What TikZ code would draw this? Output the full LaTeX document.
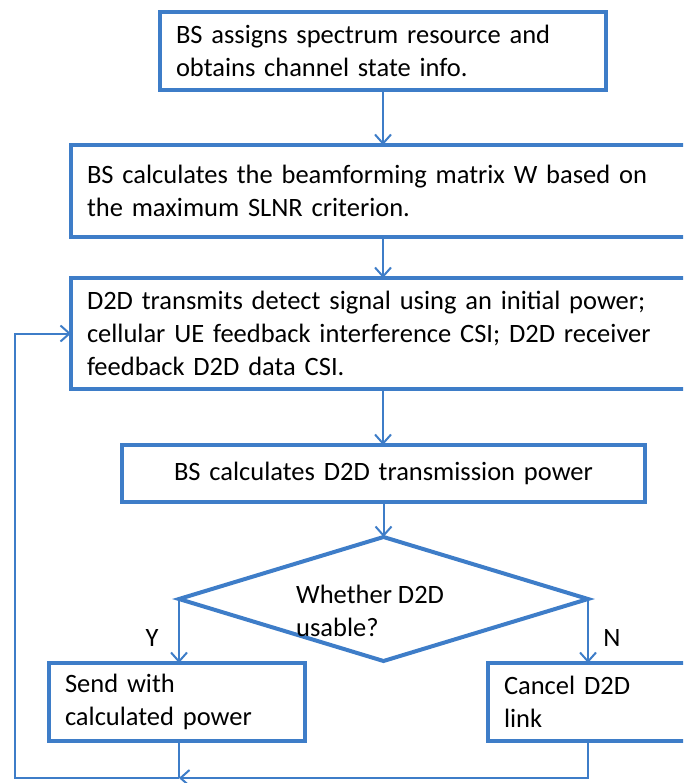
\documentclass[tikz,border=0pt]{standalone}
\usepackage{fontspec}
\setmainfont{Carlito}
\usetikzlibrary{shapes.geometric,arrows.meta}

\definecolor{flowblue}{RGB}{62,125,200}
\tikzset{
  box/.style={draw=flowblue, line width=4pt, inner xsep=16pt, inner ysep=0pt, outer sep=0pt,
    align=left, font=\fontsize{26.5}{33}\selectfont},
  decide/.style={draw=flowblue, line width=4pt, diamond, inner sep=0pt, outer sep=0pt},
  tag/.style={font=\fontsize{26.5}{33}\selectfont, inner sep=0pt},
  link/.style={draw=flowblue, line width=2pt, -{Straight Barb[length=9pt,width=16pt,line width=2pt]}},
  wire/.style={draw=flowblue, line width=2pt},
}

\begin{document}
\begin{tikzpicture}[x=1pt,y=-1pt]
\useasboundingbox (0,0) rectangle (683,783);
\clip (0,0) rectangle (683,783);
% boxes
\node[box, text width=414pt, minimum height=78pt] (assign) at (383,51)
  {BS assigns spectrum resource and\\obtains channel state info.};
\node[box, text width=608pt, minimum height=92pt] (beam) at (391,191)
  {BS calculates the beamforming matrix W based on\\the maximum SLNR criterion.};
\node[box, text width=608pt, minimum height=111pt] (detect) at (391,333.5)
  {D2D transmits detect signal using an initial power;\\cellular UE feedback interference CSI; D2D receiver\\feedback D2D data CSI.};
\node[box, align=center, text width=491pt, minimum height=57pt] (power) at (383.5,473.5)
  {BS calculates D2D transmission power};
\node[decide, minimum width=409pt, minimum height=124pt] (usable) at (383.5,599) {};
\node[tag, anchor=west, align=left] (usabletext) at (296,611) {Whether D2D\\usable?};
\node[box, text width=224pt, minimum height=78pt] (send) at (177,702)
  {Send with\\calculated power};
\node[box, text width=200pt, minimum height=78pt] (cancel) at (604,702)
  {Cancel D2D\\link};
\node[tag] (ylab) at (152,638) {Y};
\node[tag] (nlab) at (612,638) {N};
% connectors
\draw[link] (assign.south) -- (beam.north -| assign.south);
\draw[link] (beam.south -| assign.south) -- (detect.north -| assign.south);
\draw[link] (detect.south -| assign.south) -- (power.north -| assign.south);
\draw[link] (power.south -| usable.north) -- (usable.north);
\draw[link] (usable.west) -- (usable.west |- send.north);
\draw[link] (usable.east) -- (usable.east |- cancel.north);
\coordinate (join) at (usable.west |- 0,778);
\coordinate (back) at (15,778);
\draw[link] (usable.east |- cancel.south) |- (join);
\draw[wire] (usable.west |- send.south) -- (join);
\draw[link] (join) -- (back) |- (detect.west);
\end{tikzpicture}
\end{document}
